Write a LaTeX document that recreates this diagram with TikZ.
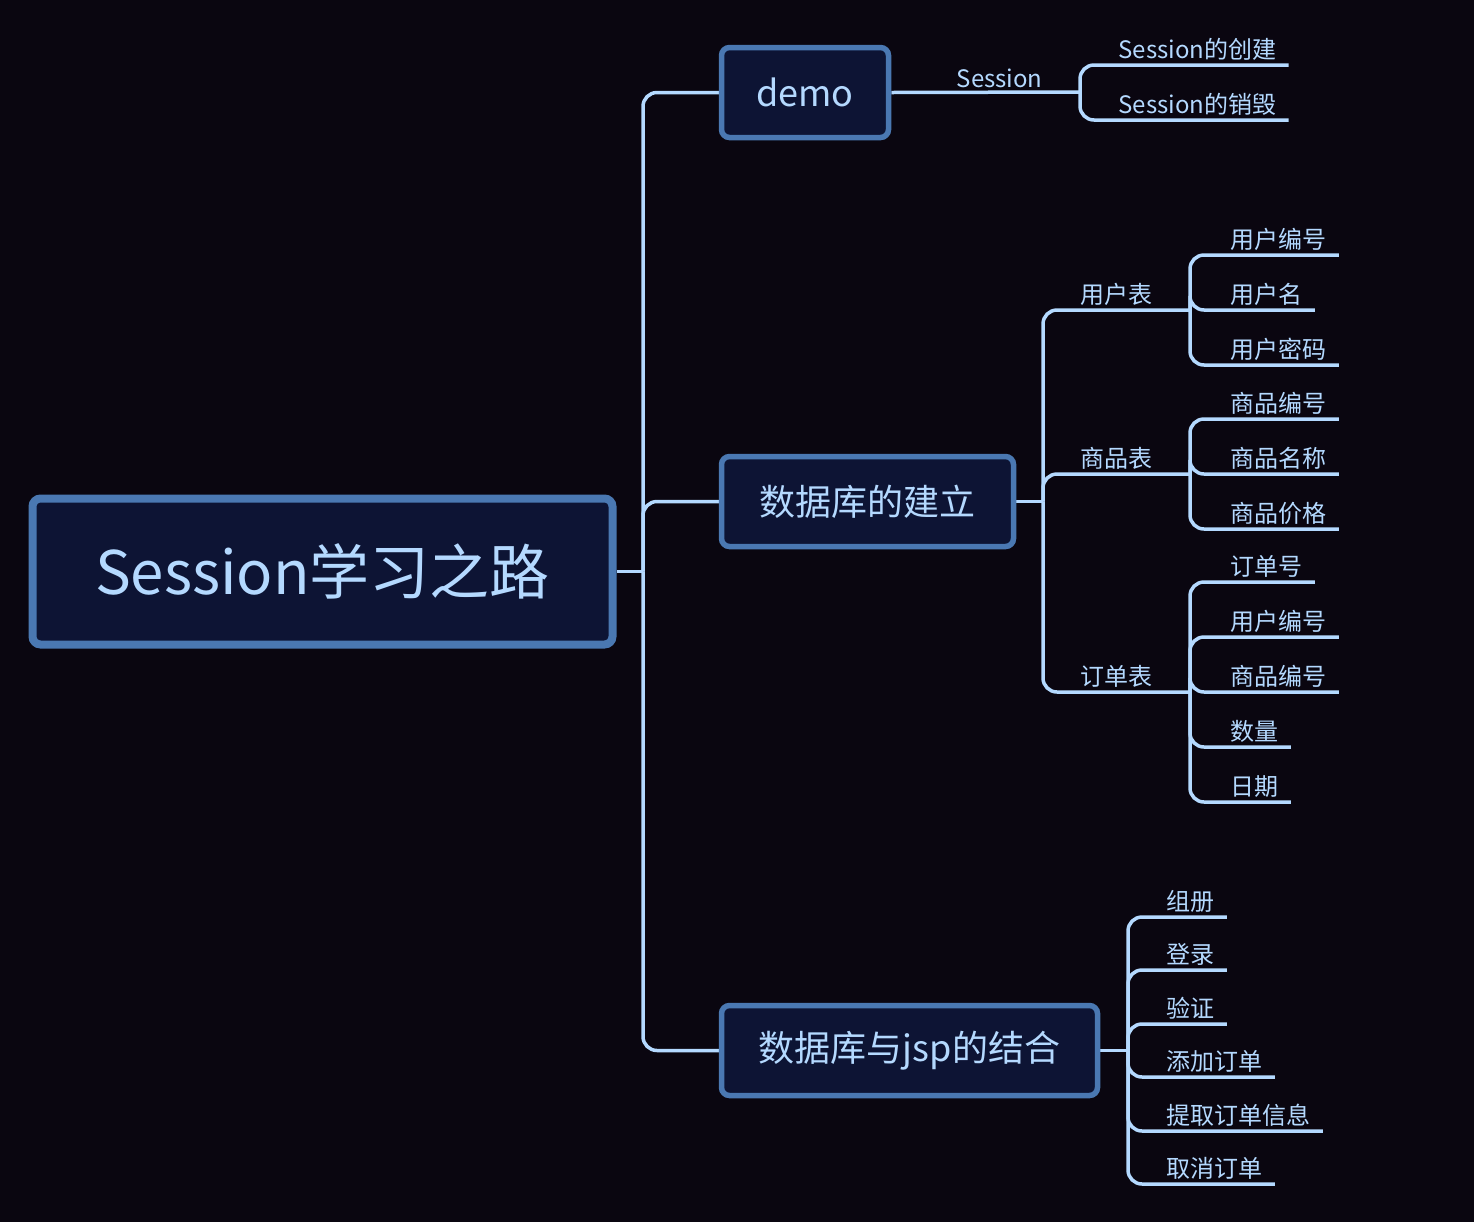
\documentclass[tikz,border=0pt]{standalone}
\usepackage{fontspec}
\setmainfont{Noto Sans CJK SC}
\usetikzlibrary{backgrounds}
\definecolor{bgdark}{HTML}{0A0610}
\definecolor{boxfill}{HTML}{0D1434}
\definecolor{boxline}{HTML}{4A78B2}
\definecolor{linkblue}{HTML}{B4D9FF}
\begin{document}
\begin{tikzpicture}[x=0.5pt, y=-0.5pt]
        \tikzset{topic/.style={draw=boxline, fill=boxfill, text=linkblue, line width=2.75pt, rounded corners=4pt, minimum height=44pt, font=\fontsize{18}{22}\selectfont}}
        \tikzset{link/.style={draw=linkblue, line width=1.75pt, rounded corners=7pt}}
        \tikzset{sub/.style={anchor=south east, inner xsep=18.5pt, inner ysep=2pt, text=linkblue, font=\fontsize{12}{14}\selectfont}}
        \tikzset{leaf/.style={anchor=south west, inner xsep=6pt, inner ysep=2pt, text=linkblue, font=\fontsize{12}{14}\selectfont}}
        \useasboundingbox (0,0) rectangle (1474,1222);
        \node[topic, line width=4pt, minimum width=290pt, minimum height=73pt, font=\fontsize{30}{36}\selectfont] (root) at (322.5,571.5) {Session学习之路};
        \node[topic, minimum width=83.5pt, minimum height=45pt] (demo) at (805,92.5) {demo};
        \node[topic, minimum width=146pt, minimum height=45pt] (db) at (867.5,501.5) {数据库的建立};
        \node[topic, minimum width=188pt, minimum height=45pt] (jsp) at (909.5,1050.5) {数据库与jsp的结合};
        \node[sub] (sess) at (1080,92) {Session};
        \node[leaf] (create) at (1106,65) {Session的创建};
        \node[leaf] (destroy) at (1106,120) {Session的销毁};
        \node[sub] (user) at (1190,310) {用户表};
        \node[leaf] (uid) at (1218,255) {用户编号};
        \node[leaf] (uname) at (1218,310) {用户名};
        \node[leaf] (upwd) at (1218,365) {用户密码};
        \node[sub] (goods) at (1190,474) {商品表};
        \node[leaf] (gid) at (1218,419) {商品编号};
        \node[leaf] (gname) at (1218,474) {商品名称};
        \node[leaf] (gprice) at (1218,529) {商品价格};
        \node[sub] (order) at (1190,692) {订单表};
        \node[leaf] (oid) at (1218,582) {订单号};
        \node[leaf] (ouid) at (1218,637) {用户编号};
        \node[leaf] (ogid) at (1218,692) {商品编号};
        \node[leaf] (onum) at (1218,747) {数量};
        \node[leaf] (odate) at (1218,802) {日期};
        \node[leaf] (reg) at (1154,917) {组册};
        \node[leaf] (login) at (1154,970) {登录};
        \node[leaf] (check) at (1154,1024) {验证};
        \node[leaf] (add) at (1154,1077) {添加订单};
        \node[leaf] (fetch) at (1154,1131) {提取订单信息};
        \node[leaf] (cancel) at (1154,1184) {取消订单};
        \coordinate (rootfork) at (643,571.5);
        \coordinate (dbfork) at (1043,501.5);
        \coordinate (jspfork) at (1128,1050.5);
        \begin{scope}[on background layer]
        \fill[bgdark] (0,0) rectangle (1474,1222);
        \draw[link] (root.east) -- (rootfork);
        \draw[link] (rootfork) |- (demo.west);
        \draw[link] (rootfork) |- (db.west);
        \draw[link] (rootfork) |- (jsp.west);
        \draw[link] (demo.east) -- (sess.south east);
        \draw[link] (sess.south east) |- (create.south east);
        \draw[link] (sess.south east) |- (destroy.south east);
        \draw[link] (db.east) -- (dbfork);
        \draw[link] (dbfork) |- (user.south east);
        \draw[link] (dbfork) |- (goods.south east);
        \draw[link] (dbfork) |- (order.south east);
        \draw[link] (user.south east) |- (uid.south east);
        \draw[link] (user.south east) |- (uname.south east);
        \draw[link] (user.south east) |- (upwd.south east);
        \draw[link] (goods.south east) |- (gid.south east);
        \draw[link] (goods.south east) |- (gname.south east);
        \draw[link] (goods.south east) |- (gprice.south east);
        \draw[link] (order.south east) |- (oid.south east);
        \draw[link] (order.south east) |- (ouid.south east);
        \draw[link] (order.south east) |- (ogid.south east);
        \draw[link] (order.south east) |- (onum.south east);
        \draw[link] (order.south east) |- (odate.south east);
        \draw[link] (jsp.east) -- (jspfork);
        \draw[link] (jspfork) |- (reg.south east);
        \draw[link] (jspfork) |- (login.south east);
        \draw[link] (jspfork) |- (check.south east);
        \draw[link] (jspfork) |- (add.south east);
        \draw[link] (jspfork) |- (fetch.south east);
        \draw[link] (jspfork) |- (cancel.south east);
        \end{scope}
    \end{tikzpicture}
\end{document}
